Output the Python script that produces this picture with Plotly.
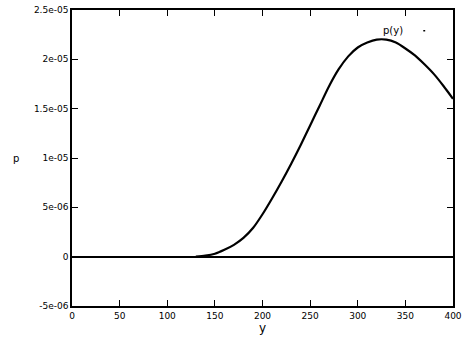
import plotly.graph_objects as go

# density curve
y_vals = [130, 140, 150, 160, 170, 180, 190, 200, 210, 220, 230, 240, 250, 260,
          270, 280, 290, 300, 310, 320, 330, 340, 350, 360, 370, 380, 390, 400]
p_vals = [0.0, 0.01, 0.03, 0.07, 0.12, 0.19, 0.29, 0.43, 0.59, 0.76, 0.94, 1.13,
          1.33, 1.53, 1.73, 1.90, 2.03, 2.12, 2.17, 2.20, 2.20, 2.17, 2.11, 2.04,
          1.95, 1.85, 1.73, 1.60]
p_vals = [v * 1e-5 for v in p_vals]

x_ticks = [0, 50, 100, 150, 200, 250, 300, 350, 400]
y_ticks = [-5e-6, 0, 5e-6, 1e-5, 1.5e-5, 2e-5, 2.5e-5]
y_tick_text = ["-5e-06", "0", "5e-06", "1e-05", "1.5e-05", "2e-05", "2.5e-05"]

fig = go.Figure()
fig.add_trace(go.Scatter(x=y_vals, y=p_vals, mode="lines",
                         line=dict(color="black", width=2.2, shape="spline", smoothing=0.8),
                         name="p(y)", showlegend=False))

axis_style = dict(showline=True, linecolor="black", linewidth=1.5, mirror="allticks",
                  ticks="inside", ticklen=6, tickcolor="black", showgrid=False,
                  tickfont=dict(family="DejaVu Sans", size=9, color="black"))

fig.update_xaxes(range=[0, 400], tickvals=x_ticks, zeroline=False,
                 title=dict(text="y", standoff=2, font=dict(color="black")), **axis_style)
fig.update_yaxes(range=[-5e-6, 2.5e-5], tickvals=y_ticks, ticktext=y_tick_text,
                 zeroline=True, zerolinecolor="black", zerolinewidth=1.5,
                 title=dict(text=""), **axis_style)

# y-axis label, horizontal like gnuplot
fig.add_annotation(text="p", xref="paper", yref="paper", x=-0.16, y=0.5,
                   showarrow=False, font=dict(family="DejaVu Sans", size=10, color="black"))
# key
fig.add_annotation(text="p(y)", xref="paper", yref="paper", x=0.875, y=0.93,
                   xanchor="right", yanchor="middle", showarrow=False,
                   font=dict(family="DejaVu Sans", size=10, color="black"))
fig.add_shape(type="line", xref="paper", yref="paper", x0=0.922, x1=0.927,
              y0=0.93, y1=0.93, line=dict(color="black", width=1.5))

fig.update_layout(width=467, height=345, plot_bgcolor="white", paper_bgcolor="white",
                  margin=dict(l=72, r=9, t=5, b=39),
                  font=dict(family="DejaVu Sans", size=10, color="black"))

fig.write_html("out.html", config={"displayModeBar": False},
               post_script="document.body.style.margin='0px';")
